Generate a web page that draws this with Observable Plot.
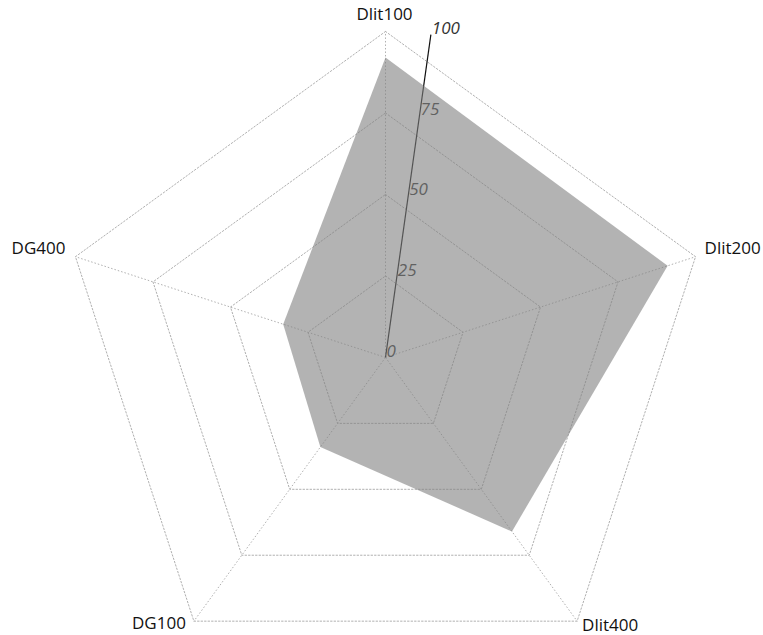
<!DOCTYPE html>
<html>
<head>
<meta charset="utf-8">
<script src="https://cdn.jsdelivr.net/npm/d3@7"></script>
<script src="https://cdn.jsdelivr.net/npm/@observablehq/plot@0.6"></script>
<style>
  html, body { margin: 0; padding: 0; background: #fff; }
  svg { display: block; font-family: "Open Sans", sans-serif; }
</style>
</head>
<body>
<div id="chart"></div>
<script>
const axes = ["Dlit100", "Dlit200", "Dlit400", "DG100", "DG400"];
const values = [92, 91, 66, 34, 33];
const ticks = [0, 25, 50, 75, 100];
const tickAxisAngle = 8; // degrees, tilt of the value axis

const rad = d => d * Math.PI / 180;
const ang = i => rad(i * 360 / axes.length);
const px = (v, a) => v * Math.sin(a);
const py = (v, a) => v * Math.cos(a);

// grid rings (levels 25..100), closed
const rings = ticks.filter(t => t > 0).flatMap(t =>
  [...axes.keys(), 0].map(i => ({level: t, x: px(t, ang(i)), y: py(t, ang(i))}))
);
const spokes = axes.map((name, i) => ({x1: 0, y1: 0, x2: px(100, ang(i)), y2: py(100, ang(i))}));
const poly = axes.map((name, i) => ({x: px(values[i], ang(i)), y: py(values[i], ang(i))}));
const tickPts = ticks.map(t => ({t, x: px(t, rad(tickAxisAngle)), y: py(t, rad(tickAxisAngle))}));
const labelPts = axes.map((name, i) => ({name, x: px(100, ang(i)), y: py(100, ang(i))}));

const labelStyle = [
  {textAnchor: "middle", dx: -1, dy: -17},
  {textAnchor: "start", dx: 9, dy: -8},
  {textAnchor: "start", dx: 5, dy: 4},
  {textAnchor: "end", dx: -8, dy: 2},
  {textAnchor: "end", dx: -10, dy: -8}
];

const chart = Plot.plot({
  width: 763,
  height: 635,
  margin: 0,
  x: {domain: [-118.1, 115.95], axis: null},
  y: {domain: [-85.3, 109.5], axis: null},
  marks: [
    Plot.link(spokes, {x1: "x1", y1: "y1", x2: "x2", y2: "y2", stroke: "#b0b0b0", strokeWidth: 1, strokeDasharray: "1.5,2"}),
    Plot.line(rings, {x: "x", y: "y", z: "level", stroke: "#b0b0b0", strokeWidth: 1, strokeDasharray: "1.5,2"}),
    Plot.link([tickPts[0]], {x1: 0, y1: 0, x2: tickPts[tickPts.length - 1].x, y2: tickPts[tickPts.length - 1].y, stroke: "#111", strokeWidth: 1.2}),
    Plot.text(tickPts, {x: "x", y: "y", text: d => String(d.t), textAnchor: "start", dx: 1, dy: -6, fontSize: 17, fontStyle: "italic", fill: "#333"}),
    Plot.line(poly.concat([poly[0]]), {x: "x", y: "y", fill: "#808080", fillOpacity: 0.6, stroke: "none"}),
    ...labelPts.map((d, i) => Plot.text([d], {x: "x", y: "y", text: "name", fontSize: 17, fill: "#111", ...labelStyle[i]}))
  ]
});
document.getElementById("chart").appendChild(chart);
</script>
</body>
</html>
